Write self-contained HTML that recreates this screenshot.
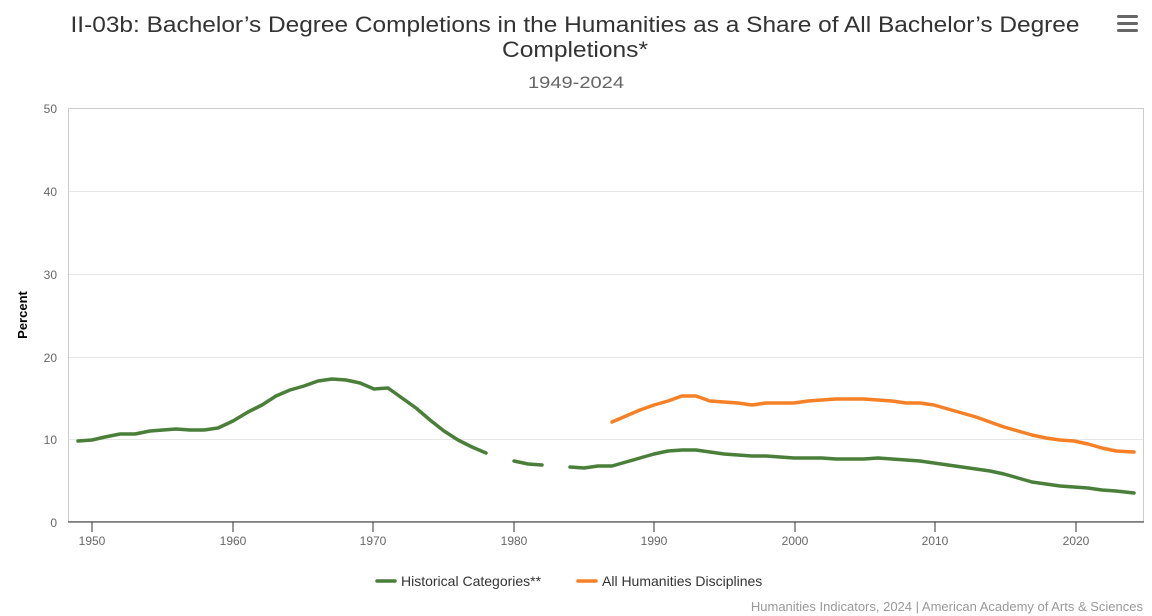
<!DOCTYPE html>
<html><head><meta charset="utf-8"><style>
html,body{margin:0;padding:0;background:#fff;}
svg{display:block;font-family:"Liberation Sans",sans-serif;}
</style></head><body>
<svg width="1152" height="616" viewBox="0 0 1152 616" xmlns="http://www.w3.org/2000/svg">
<rect width="1152" height="616" fill="#fff"/>
<text x="575" y="32" text-anchor="middle" font-size="22" fill="#333" textLength="1009" lengthAdjust="spacingAndGlyphs">II-03b: Bachelor’s Degree Completions in the Humanities as a Share of All Bachelor’s Degree</text>
<text x="575" y="57" text-anchor="middle" font-size="22" fill="#333" textLength="146" lengthAdjust="spacingAndGlyphs">Completions*</text>
<text x="576" y="88" text-anchor="middle" font-size="17" fill="#666" textLength="96" lengthAdjust="spacingAndGlyphs">1949-2024</text>
<g fill="#666"><rect x="1117" y="15" width="21" height="3" rx="1.5"/><rect x="1117" y="22" width="21" height="3" rx="1.5"/><rect x="1117" y="29" width="21" height="3" rx="1.5"/></g>
<g stroke="#e6e6e6" stroke-width="1">
<line x1="68" x2="1144" y1="108.5" y2="108.5"/><line x1="68" x2="1144" y1="191.5" y2="191.5"/><line x1="68" x2="1144" y1="274.5" y2="274.5"/><line x1="68" x2="1144" y1="357.5" y2="357.5"/><line x1="68" x2="1144" y1="439.5" y2="439.5"/>
</g>
<rect x="68.5" y="108.5" width="1075" height="413" fill="none" stroke="#ccc"/>
<line x1="68" x2="1144" y1="522" y2="522" stroke="#333" stroke-width="1"/>
<g stroke="#333"><line x1="92" x2="92" y1="522" y2="532"/><line x1="233" x2="233" y1="522" y2="532"/><line x1="373" x2="373" y1="522" y2="532"/><line x1="514" x2="514" y1="522" y2="532"/><line x1="654" x2="654" y1="522" y2="532"/><line x1="795" x2="795" y1="522" y2="532"/><line x1="935" x2="935" y1="522" y2="532"/><line x1="1076" x2="1076" y1="522" y2="532"/></g>
<g font-size="12" fill="#666" text-anchor="middle">
<text x="92" y="545">1950</text><text x="233" y="545">1960</text><text x="373" y="545">1970</text><text x="514" y="545">1980</text><text x="654" y="545">1990</text><text x="795" y="545">2000</text><text x="935" y="545">2010</text><text x="1076" y="545">2020</text>
</g>
<g font-size="12" fill="#666" text-anchor="end">
<text x="57" y="113">50</text><text x="57" y="196">40</text><text x="57" y="279">30</text><text x="57" y="362">20</text><text x="57" y="444">10</text><text x="57" y="527">0</text>
</g>
<text transform="translate(27,315) rotate(-90)" text-anchor="middle" font-size="13" font-weight="bold" fill="#000">Percent</text>
<g fill="none" stroke="#4a7f39" stroke-width="3.5" stroke-linejoin="round" stroke-linecap="round">
<polyline points="78,441 92,440 105,437 120,434 135,434 150,431 176,429 190,430 204,430 218,428 233,421 248,412 262,405 276,396 290,390 304,386 318,381 332,379 346,380 360,383 374,389 388,388 402,398 416,408 430,420 444,431 458,440 472,447 486,453"/>
<polyline points="514,461 528,464 542,465"/>
<polyline points="570,467 584,468 598,466 612,466 626,462 640,458 654,454 668,451 682,450 696,450 710,452 724,454 738,455 752,456 766,456 780,457 794,458 808,458 822,458 836,459 850,459 864,459 878,458 892,459 906,460 920,461 934,463 948,465 962,467 976,469 990,471 1004,474 1018,478 1032,482 1046,484 1060,486 1074,487 1088,488 1102,490 1116,491 1134,493"/>
</g>
<polyline fill="none" stroke="#f58025" stroke-width="3.5" stroke-linejoin="round" stroke-linecap="round" points="612,422 626,416 640,410 654,405 668,401 682,396 696,396 710,401 724,402 738,403 752,405 766,403 780,403 794,403 808,401 822,400 836,399 850,399 864,399 878,400 892,401 906,403 920,403 934,405 948,409 962,413 976,417 990,422 1004,427 1018,431 1032,435 1046,438 1060,440 1074,441 1088,444 1102,448 1116,451 1134,452"/>
<line x1="377" x2="395" y1="581" y2="581" stroke="#4a7f39" stroke-width="3.5" stroke-linecap="round"/>
<text x="401" y="586" font-size="14" fill="#333">Historical Categories**</text>
<line x1="578" x2="596" y1="581" y2="581" stroke="#f58025" stroke-width="3.5" stroke-linecap="round"/>
<text x="602" y="586" font-size="14" fill="#333">All Humanities Disciplines</text>
<text x="1143" y="611" text-anchor="end" font-size="13" fill="#999">Humanities Indicators, 2024 | American Academy of Arts &amp; Sciences</text>
</svg>
</body></html>
